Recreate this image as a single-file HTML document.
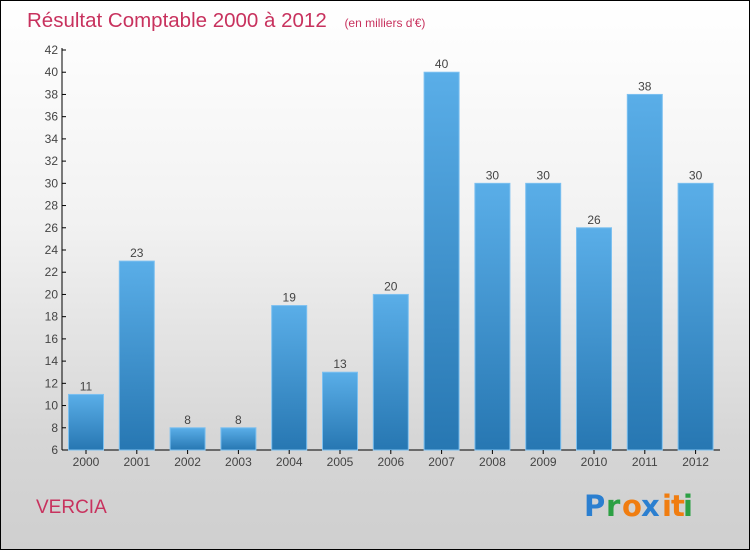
<!DOCTYPE html>
<html><head><meta charset="utf-8"><style>
body{margin:0;width:750px;height:550px;overflow:hidden;font-family:"Liberation Sans",sans-serif}
#wrap{position:absolute;left:0;top:0;width:748px;height:548px;border:1px solid #000;background:linear-gradient(#ffffff 0%,#f2f2f2 40%,#d6d6d6 80%,#cfcfcf 100%)}
</style></head><body>
<div id="wrap">
<svg width="750" height="550" style="position:absolute;left:-1px;top:-1px">
<defs><linearGradient id="bg" x1="0" y1="0" x2="0" y2="1"><stop offset="0" stop-color="#5aaee8"/><stop offset="1" stop-color="#2777b2"/></linearGradient></defs>
<text x="27" y="27" font-size="20.5" fill="#c8325e">Résultat Comptable 2000 à 2012 <tspan font-size="12" dx="12">(en milliers d'€)</tspan></text>
<g id="chart"></g>
<text x="36" y="513" font-size="19" fill="#c8325e">VERCIA</text>
<g font-size="29" font-weight="bold" font-family="'DejaVu Sans',sans-serif">
<text x="584" y="516" fill="#2b7fd0">P</text><text x="606" y="516" fill="#2ca044">r</text><text x="622" y="516" fill="#f07d10">o</text><text x="641" y="516" fill="#2b7fd0">x</text><text x="662" y="516" fill="#f07d10">i</text><text x="671" y="516" fill="#f07d10">t</text><text x="683" y="516" fill="#2ca044">i</text>
</g>
</svg>
</div>
<script>
const years=["2000","2001","2002","2003","2004","2005","2006","2007","2008","2009","2010","2011","2012"];
const values=[11,23,8,8,19,13,20,40,30,30,26,38,30];
const yTicks=[6,8,10,12,14,16,18,20,22,24,26,28,30,32,34,36,38,40,42];
const NS="http://www.w3.org/2000/svg";
const g=document.getElementById('chart');
const y=v=>450-(v-6)*400/36;
const x=i=>86+i*50.8;
function mk(t,a,p){const e=document.createElementNS(NS,t);for(const k in a)e.setAttribute(k,a[k]);(p||g).appendChild(e);return e;}
let ax=mk('line',{x1:62,y1:48,x2:62,y2:450,stroke:'#000'});


let bx=mk('line',{x1:62,y1:450,x2:720,y2:450,stroke:'#000'});


yTicks.forEach(v=>{
 mk('line',{x1:62,y1:y(v),x2:66,y2:y(v),stroke:'#000'});
 const t=mk('text',{x:58,y:y(v)+4,'font-size':12,fill:'#444','text-anchor':'end'});t.textContent=v;
 
 
});
years.forEach((yr,i)=>{
 const v=values[i];
 const r=mk('rect',{x:x(i)-17.5,y:y(v),width:35,height:450-y(v),fill:'url(#bg)',stroke:'#7cc0f0','stroke-width':1});
 
 
 mk('line',{x1:x(i),y1:450,x2:x(i),y2:454,stroke:'#000'});
 const t=mk('text',{x:x(i),y:466,'font-size':12,fill:'#444','text-anchor':'middle'});t.textContent=yr;
 
 
 const l=mk('text',{x:x(i),y:y(v)-4,'font-size':12,fill:'#444','text-anchor':'middle'});l.textContent=v;
 
 
});
</script>
</body></html>
